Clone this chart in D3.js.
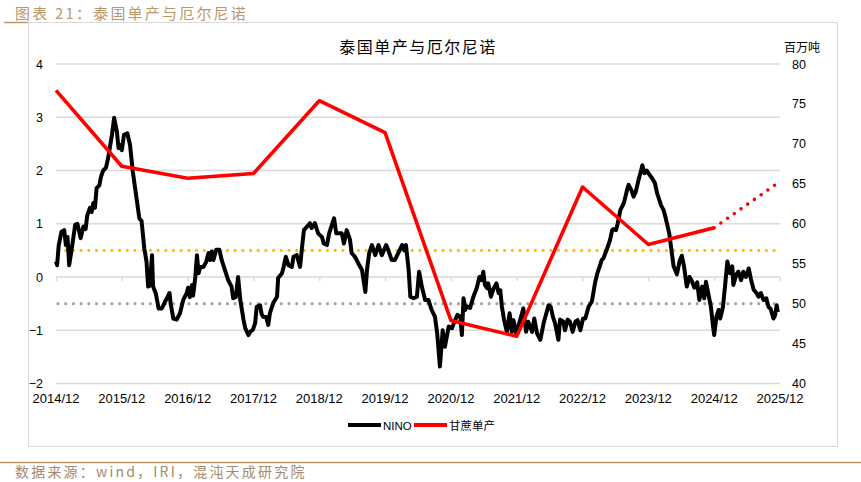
<!DOCTYPE html>
<html>
<head>
<meta charset="utf-8">
<script src="https://cdn.jsdelivr.net/npm/d3@7"></script>
<style>
  body { margin: 0; background: #fff; }
  svg { display: block; font-family: "Liberation Sans", Arial, sans-serif; }
  .cjk { font-family: "Noto Sans CJK SC", sans-serif; }
  .narrow { font-family: "Liberation Sans Narrow", "Liberation Sans", sans-serif; }
</style>
</head>
<body>
<svg id="chart" width="861" height="482"></svg>
<script>
// x 轴: 2014/12 之后的月份数
const tickLabels = ['2014/12', '2015/12', '2016/12', '2017/12', '2018/12', '2019/12',
  '2020/12', '2021/12', '2022/12', '2023/12', '2024/12', '2025/12']
const leftTicks = [-2, -1, 0, 1, 2, 3, 4]
const rightTicks = [40, 45, 50, 55, 60, 65, 70, 75, 80]

// NINO 指数 (周度, 按图读取)
const ninoMonths = [0, 0.2, 0.5, 1.0, 1.5, 1.8, 2.1, 2.4, 2.9, 3.5, 3.9, 4.5, 5.0, 5.4, 5.7, 6.2, 6.5, 6.8, 7.1, 7.4,
  7.9, 8.2, 8.6, 9.1, 9.5, 10.2, 10.6, 11.1, 11.4, 11.7, 12.0, 12.4, 13.0, 13.5, 14.0, 14.6, 15.2, 15.6, 16.1, 16.5,
  16.8, 17.1, 17.5, 17.7, 18.2, 18.7, 19.3, 19.9, 20.2, 20.7, 20.9, 21.4, 22.0, 22.6, 23.2, 23.8, 24.1, 24.4, 24.8, 25.0,
  25.4, 25.7, 26.0, 26.3, 26.9, 27.4, 27.8, 28.1, 28.4, 28.7, 29.2, 29.8, 30.2, 30.8, 31.4, 32.0, 32.3, 32.8, 33.2, 33.6,
  34.2, 34.5, 35.1, 35.4, 35.9, 36.3, 36.6, 37.2, 37.5, 37.8, 38.3, 38.7, 39.0, 39.6, 40.3, 40.5, 41.2, 41.5, 41.9, 42.4,
  43.0, 43.3, 43.9, 44.5, 44.8, 45.2, 45.7, 46.3, 46.6, 47.2, 47.6, 47.8, 48.5, 48.8, 49.4, 49.8, 50.3, 50.7, 51.1, 51.5,
  52.1, 52.5, 53.0, 53.6, 53.9, 54.5, 55.1, 55.8, 56.4, 56.7, 57.1, 57.6, 58.2, 58.8, 59.4, 60.2, 60.6, 61.2, 61.8, 62.4,
  63.1, 63.5, 63.8, 64.3, 64.6, 65.2, 65.8, 66.2, 66.7, 67.3, 67.9, 68.5, 69.1, 69.5, 70.0, 70.5, 70.9, 71.6, 72.2, 72.8,
  73.2, 73.7, 74.0, 74.3, 74.6, 74.9, 75.5, 76.1, 76.7, 77.2, 77.6, 77.9, 78.2, 78.6, 78.8, 79.3, 79.8, 80.3, 80.7, 81.0,
  81.3, 81.7, 82.2, 82.7, 83.1, 83.4, 83.9, 84.5, 85.2, 85.7, 86.1, 86.8, 87.2, 87.7, 88.3, 88.9, 89.4, 89.8, 90.2, 90.6,
  91.0, 91.6, 91.9, 92.5, 92.8, 93.3, 93.7, 94.2, 94.7, 95.1, 95.6, 96.1, 96.5, 97.1, 97.7, 98.3, 98.7, 99.1, 99.5, 99.8,
  100.4, 101.0, 101.4, 101.6, 102.1, 102.4, 102.9, 103.5, 103.8, 104.1, 104.4, 104.9, 105.3, 105.7, 106.2, 106.7, 106.9, 107.3, 107.7, 108.0,
  108.5, 108.9, 109.2, 109.6, 110.0, 110.3, 110.8, 111.1, 111.4, 111.8, 112.2, 112.6, 113.2, 113.7, 114.1, 114.5, 115.0, 115.5, 115.9, 116.4,
  116.9, 117.3, 117.8, 118.2, 118.5, 119.0, 119.4, 119.8, 120.0, 120.4, 120.8, 121.1, 121.6, 122.0, 122.4, 122.9, 123.3, 123.5, 124.0, 124.4,
  124.9, 125.3, 125.8, 126.3, 126.7, 127.2, 127.7, 128.1, 128.5, 129.0, 129.5, 129.9, 130.3, 130.8, 131.1, 131.4, 131.6]
const ninoValues = [0.29, 0.22, 0.6, 0.85, 0.88, 0.6, 0.75, 0.22, 0.55, 0.98, 1.0, 0.73, 0.95, 0.9, 1.16, 1.3, 1.22, 1.39, 1.3, 1.67,
  1.72, 1.88, 2.0, 2.05, 2.23, 2.67, 2.99, 2.73, 2.42, 2.48, 2.38, 2.67, 2.7, 2.48, 1.98, 1.54, 1.1, 1.05, 0.54, 0.29,
  -0.18, -0.16, 0.41, -0.18, -0.31, -0.59, -0.59, -0.46, -0.4, -0.3, -0.5, -0.78, -0.8, -0.68, -0.43, -0.31, -0.2, -0.38, -0.15, -0.35,
  0.0, 0.41, 0.07, 0.19, 0.19, 0.29, 0.45, 0.32, 0.48, 0.32, 0.51, 0.51, 0.32, 0.13, -0.06, -0.18, -0.4, -0.37, 0.0, -0.43,
  -0.81, -0.96, -1.09, -1.03, -0.99, -0.87, -0.56, -0.53, -0.7, -0.75, -0.75, -0.9, -0.68, -0.49, -0.37, -0.02, 0.07, 0.19, 0.38, 0.22,
  0.19, 0.38, 0.41, 0.19, 0.5, 0.88, 0.94, 1.01, 0.92, 1.01, 0.88, 0.82, 0.75, 0.63, 0.6, 0.82, 0.98, 1.1, 0.82, 0.82,
  0.82, 0.63, 0.88, 0.7, 0.45, 0.38, 0.26, 0.13, -0.28, 0.13, 0.45, 0.6, 0.41, 0.6, 0.41, 0.6, 0.5, 0.32, 0.32, 0.45,
  0.6, 0.5, 0.6, 0.13, -0.37, -0.4, -0.37, 0.1, -0.18, -0.43, -0.43, -0.62, -0.75, -1.06, -1.68, -1.0, -1.31, -0.93, -0.96, -0.8,
  -0.71, -0.75, -1.09, -0.4, -0.62, -0.55, -0.58, -0.37, -0.21, 0.0, -0.06, 0.1, -0.15, -0.21, -0.12, -0.37, -0.21, -0.12, -0.3, -0.25,
  -0.56, -0.81, -1.03, -0.68, -1.03, -0.81, -1.06, -0.85, -0.59, -1.03, -0.84, -1.03, -0.78, -1.06, -1.18, -0.87, -0.68, -0.53, -0.56, -0.75,
  -0.87, -1.18, -0.8, -0.84, -1.0, -0.8, -0.84, -1.03, -0.84, -0.81, -1.0, -0.78, -0.78, -0.56, -0.46, -0.1, 0.07, 0.19, 0.32, 0.35,
  0.51, 0.69, 0.88, 0.9, 0.88, 1.0, 1.26, 1.38, 1.5, 1.63, 1.73, 1.63, 1.51, 1.6, 1.82, 2.01, 2.1, 1.95, 2.0, 1.95,
  1.88, 1.82, 1.76, 1.57, 1.45, 1.35, 1.25, 1.13, 1.0, 0.82, 0.51, 0.2, 0.05, 0.3, 0.4, 0.2, -0.18, 0.0, -0.07, -0.2,
  -0.1, -0.43, -0.18, -0.4, -0.09, -0.35, -0.56, -0.93, -1.09, -0.75, -0.62, -0.78, -0.56, -0.15, 0.29, 0.07, 0.2, -0.15, 0.04, 0.1,
  -0.06, 0.1, 0.0, 0.16, -0.04, -0.24, -0.3, -0.37, -0.3, -0.43, -0.4, -0.56, -0.6, -0.78, -0.72, -0.53, -0.66]

// 甘蔗单产 (年度, 右轴)
const caneMonths = [0, 12, 24, 36, 48, 60, 72, 84, 96, 108, 120]
const caneValues = [76.7, 67.2, 65.7, 66.3, 75.4, 71.4, 47.9, 45.9, 64.6, 57.4, 59.5]
const caneForecastMonths = [120, 132]
const caneForecastValues = [59.5, 65.3]

// 阈值线
const elNinoLevel = 0.5
const laNinaLevel = -0.5

const svg = d3.select('#chart')
const margin = { left: 56, right: 780, top: 64, bottom: 383.5 }

// 外框和标题
svg.append('line')
  .attr('x1', 4).attr('x2', 28).attr('y1', 22.5).attr('y2', 22.5)
  .attr('stroke', '#b89868').attr('stroke-width', 1.5)
svg.append('rect')
  .attr('x', 28.5).attr('y', 22.5).attr('width', 809).attr('height', 424)
  .attr('fill', '#fff').attr('stroke', '#d9d9d9')
svg.append('text').attr('class', 'cjk')
  .attr('x', 15).attr('y', 19)
  .attr('fill', '#b8986a').attr('font-size', 15).attr('letter-spacing', 2.2)
  .text('图表 21：泰国单产与厄尔尼诺')
svg.append('line')
  .attr('x1', 0).attr('x2', 861).attr('y1', 462.5).attr('y2', 462.5)
  .attr('stroke', '#b89868').attr('stroke-width', 1.5)
svg.append('text').attr('class', 'cjk')
  .attr('x', 15).attr('y', 477)
  .attr('fill', '#a08b6e').attr('font-size', 14).attr('letter-spacing', 2.2)
  .text('数据来源：wind，IRI，混沌天成研究院')

svg.append('text').attr('class', 'cjk')
  .attr('x', 418).attr('y', 53)
  .attr('text-anchor', 'middle').attr('font-size', 16).attr('fill', '#000').attr('letter-spacing', 1.5)
  .text('泰国单产与厄尔尼诺')
svg.append('text').attr('class', 'cjk')
  .attr('x', 802).attr('y', 52)
  .attr('text-anchor', 'middle').attr('font-size', 12).attr('fill', '#000')
  .text('百万吨')

// 比例尺
const x = d3.scaleLinear().domain([0, 132]).range([margin.left, margin.right])
const yL = d3.scaleLinear().domain([-2, 4]).range([margin.bottom, margin.top])
const yR = d3.scaleLinear().domain([40, 80]).range([margin.bottom, margin.top])

// 网格线
svg.append('g')
  .selectAll('line').data(leftTicks).enter().append('line')
  .attr('x1', margin.left).attr('x2', margin.right)
  .attr('y1', d => yL(d)).attr('y2', d => yL(d))
  .attr('stroke', '#d9d9d9').attr('stroke-width', 1.3)

// x 轴 (在0处, 刻度向下)
const xAxisG = svg.append('g')
  .attr('transform', `translate(0,${yL(0)})`)
  .call(d3.axisBottom(x).tickValues(d3.range(0, 133, 12)).tickSize(4).tickFormat(''))
xAxisG.select('.domain').remove()
xAxisG.selectAll('line').attr('stroke', '#d9d9d9').attr('stroke-width', 1.3)

// x 轴标签
svg.append('g').attr('class', 'narrow')
  .selectAll('text').data(tickLabels).enter().append('text')
  .attr('x', (d, i) => x(i * 12)).attr('y', 403)
  .attr('text-anchor', 'middle').attr('font-size', 13).attr('fill', '#000')
  .text(d => d)

// 左轴
const leftG = svg.append('g')
  .attr('transform', `translate(${margin.left - 10},0)`)
  .call(d3.axisLeft(yL).tickValues(leftTicks).tickSize(0).tickFormat(d3.format('d')))
leftG.select('.domain').remove()
leftG.selectAll('text').attr('font-size', 12.5).attr('fill', '#000').attr('dx', 0)
  .attr('font-family', '"Liberation Sans", Arial, sans-serif')

// 右轴
const rightG = svg.append('g')
  .attr('transform', `translate(${margin.right + 9},0)`)
  .call(d3.axisRight(yR).tickValues(rightTicks).tickSize(0))
rightG.select('.domain').remove()
rightG.selectAll('text').attr('font-size', 12.5).attr('fill', '#000')
  .attr('font-family', '"Liberation Sans", Arial, sans-serif')

// 阈值虚线
const dotLine = (level, color) => {
  svg.append('line')
    .attr('x1', x(0) + 2).attr('x2', margin.right)
    .attr('y1', yL(level)).attr('y2', yL(level))
    .attr('stroke', color).attr('stroke-width', 3.2)
    .attr('stroke-linecap', 'round').attr('stroke-dasharray', '0 7.7')
}
dotLine(elNinoLevel, '#ffc000')
dotLine(laNinaLevel, '#a6a6a6')

// NINO 线
const ninoData = ninoMonths.map((m, i) => ({ m, v: ninoValues[i] }))
svg.append('path')
  .datum(ninoData)
  .attr('d', d3.line().x(d => x(d.m)).y(d => yL(d.v)))
  .attr('fill', 'none').attr('stroke', '#000').attr('stroke-width', 4)
  .attr('stroke-linejoin', 'round')

// 甘蔗单产线
const caneData = caneMonths.map((m, i) => ({ m, v: caneValues[i] }))
svg.append('path')
  .datum(caneData)
  .attr('d', d3.line().x(d => x(d.m)).y(d => yR(d.v)))
  .attr('fill', 'none').attr('stroke', '#ff0000').attr('stroke-width', 3.6)
  .attr('stroke-linejoin', 'round')
const forecastData = caneForecastMonths.map((m, i) => ({ m, v: caneForecastValues[i] }))
svg.append('path')
  .datum(forecastData)
  .attr('d', d3.line().x(d => x(d.m)).y(d => yR(d.v)))
  .attr('fill', 'none').attr('stroke', '#ff0000').attr('stroke-width', 3.6)
  .attr('stroke-linecap', 'round').attr('stroke-dasharray', '0 8.2')

// 图例
const legend = [
  { name: 'NINO', color: '#000', x: 348, cls: 'narrow' },
  { name: '甘蔗单产', color: '#ff0000', x: 414, cls: 'cjk' }
]
const lg = svg.append('g').selectAll('g').data(legend).enter().append('g')
lg.append('line')
  .attr('x1', d => d.x).attr('x2', d => d.x + 33)
  .attr('y1', 425).attr('y2', 425)
  .attr('stroke', d => d.color).attr('stroke-width', 4)
lg.append('text')
  .attr('class', d => d.cls)
  .attr('x', d => d.x + 35).attr('y', 429.5)
  .attr('font-size', 11.5).attr('fill', '#000')
  .text(d => d.name)
</script>
</body>
</html>
